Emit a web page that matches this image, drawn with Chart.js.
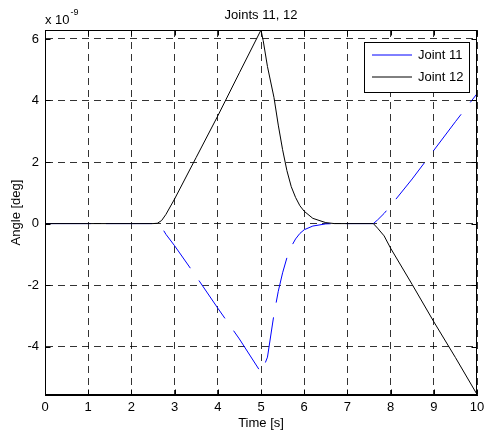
<!DOCTYPE html>
<html>
<head>
<meta charset="utf-8">
<title>Joints 11, 12</title>
<script src="https://cdn.jsdelivr.net/npm/chart.js@4.4.1/dist/chart.umd.min.js"></script>
<style>
    html, body { margin: 0; padding: 0; background: #fff; }
    #wrap { width: 484px; height: 434px; }
</style>
</head>
<body>
<div id="wrap"><canvas id="jointChart" width="484" height="434"></canvas></div>
<script>
// time samples [s]
const timeSec = [0, 2.5, 2.6, 2.7, 2.8, 3.0, 3.5, 4.0, 4.5, 5.0, 5.05, 5.15, 5.3, 5.4, 5.5, 5.6, 5.7, 5.8, 5.9, 6.0, 6.2, 6.5, 6.7, 7.5, 7.6, 7.7, 7.85, 8.0, 8.5, 9.0, 9.5, 10];
// joint angles, in units of 1e-9 deg
const joint11 = [0, 0, 0, -0.12, -0.35, -0.72, -1.72, -2.75, -3.75, -4.84, -4.7, -4.34, -2.95, -2.2, -1.6, -1.11, -0.75, -0.5, -0.32, -0.2, -0.08, -0.01, 0, 0, 0, 0.12, 0.33, 0.58, 1.45, 2.38, 3.31, 4.22];
const joint12 = [0, 0, 0.01, 0.1, 0.3, 0.8, 2.15, 3.5, 4.9, 6.29, 5.95, 5.1, 4.1, 3.2, 2.4, 1.72, 1.2, 0.85, 0.58, 0.4, 0.17, 0.03, 0, 0, 0, -0.15, -0.4, -0.8, -1.98, -3.19, -4.35, -5.55];
const seriesNames = ['Joint 11', 'Joint 12'];
const seriesColors = ['#0000ff', '#000000'];

const xTicks = [0, 1, 2, 3, 4, 5, 6, 7, 8, 9, 10];
const yTicks = [-4, -2, 0, 2, 4, 6];
const yMin = -5.57;
const yMax = 6.29;

document.addEventListener("DOMContentLoaded", () => {
    const ctx = document.getElementById('jointChart').getContext('2d');
    const font = "'Liberation Sans', Arial, sans-serif";

    function toPoints(values) {
        return timeSec.map((t, i) => ({ x: t, y: values[i] }));
    }

    // box, inward ticks on all four sides, exponent label and legend
    const axesFrame = {
        id: 'axesFrame',
        afterDatasetsDraw(chart) {
            const c = chart.ctx;
            const area = chart.chartArea;
            const xs = chart.scales.x;
            const ys = chart.scales.y;
            const tickLen = 5;
            const l = Math.round(area.left) + 0.5;
            const r = Math.round(area.right) - 0.5;
            const t = Math.round(area.top) + 0.5;
            const b = Math.round(area.bottom) - 0.5;

            c.save();
            c.setLineDash([]);
            c.strokeStyle = '#000';
            c.lineWidth = 1;
            c.strokeRect(l, t, r - l, b - t);

            c.beginPath();
            xTicks.forEach(v => {
                const px = Math.round(xs.getPixelForValue(v)) + 0.5;
                c.moveTo(px, b); c.lineTo(px, b - tickLen);
                c.moveTo(px, t); c.lineTo(px, t + tickLen);
            });
            yTicks.forEach(v => {
                const py = Math.round(ys.getPixelForValue(v)) + 0.5;
                c.moveTo(l, py); c.lineTo(l + tickLen, py);
                c.moveTo(r, py); c.lineTo(r - tickLen, py);
            });
            c.stroke();

            // exponent above the y axis
            c.fillStyle = '#000';
            c.textBaseline = 'alphabetic';
            c.textAlign = 'left';
            c.font = '13px ' + font;
            c.fillText('x 10', area.left, 24);
            const w = c.measureText('x 10').width;
            c.font = '9px ' + font;
            c.fillText('-9', area.left + w + 1, 15);

            // legend box in the upper right corner
            const boxL = 364.5, boxT = 42.5, boxW = 105, boxH = 50;
            c.fillStyle = '#fff';
            c.fillRect(boxL, boxT, boxW, boxH);
            c.strokeRect(boxL, boxT, boxW, boxH);
            c.font = '13px ' + font;
            c.textBaseline = 'middle';
            seriesNames.forEach((name, i) => {
                const y = 55 + i * 22;
                c.strokeStyle = seriesColors[i];
                c.beginPath();
                c.moveTo(372, y);
                c.lineTo(412, y);
                c.stroke();
                c.fillStyle = '#000';
                c.fillText(name, 418, y + 0.5);
            });
            c.restore();
        }
    };

    new Chart(ctx, {
        type: 'line',
        data: {
            datasets: [{
                label: seriesNames[0],
                data: toPoints(joint11),
                borderColor: seriesColors[0],
                borderWidth: 1,
                borderDash: [46, 15],
                pointRadius: 0,
                tension: 0,
                order: 2
            }, {
                label: seriesNames[1],
                data: toPoints(joint12),
                borderColor: seriesColors[1],
                borderWidth: 1,
                pointRadius: 0,
                tension: 0,
                order: 1
            }]
        },
        options: {
            responsive: false,
            animation: false,
            devicePixelRatio: 1,
            layout: { padding: 0 },
            plugins: {
                legend: { display: false },
                tooltip: { enabled: false },
                title: {
                    display: true,
                    text: 'Joints 11, 12',
                    fullSize: false,
                    color: '#000',
                    font: { family: font, size: 13, weight: 'normal' },
                    padding: { top: 8, bottom: 6.4 }
                }
            },
            scales: {
                x: {
                    type: 'linear',
                    min: 0,
                    max: 10,
                    afterBuildTicks: scale => { scale.ticks = xTicks.map(v => ({ value: v })); },
                    afterFit: scale => {
                        scale.height = 39;
                        scale.paddingRight = 7;
                    },
                    grid: { color: 'rgba(0,0,0,0.8)', drawTicks: false },
                    border: { display: true, color: '#000', dash: [7, 5] },
                    ticks: {
                        color: '#000',
                        padding: 5,
                        maxRotation: 0,
                        font: { family: font, size: 13 }
                    },
                    title: {
                        display: true,
                        text: 'Time [s]',
                        color: '#000',
                        font: { family: font, size: 13 },
                        padding: { top: 0, bottom: 3 }
                    }
                },
                y: {
                    type: 'linear',
                    min: yMin,
                    max: yMax,
                    afterBuildTicks: scale => { scale.ticks = yTicks.map(v => ({ value: v })); },
                    afterFit: scale => { scale.width = 45; },
                    grid: { color: 'rgba(0,0,0,0.8)', drawTicks: false },
                    border: { display: true, color: '#000', dash: [7, 5] },
                    ticks: {
                        color: '#000',
                        padding: 6,
                        font: { family: font, size: 13 },
                        callback: v => String(v)
                    },
                    title: {
                        display: true,
                        text: 'Angle [deg]',
                        color: '#000',
                        font: { family: font, size: 13 },
                        padding: { top: 9, bottom: 0 }
                    }
                }
            }
        },
        plugins: [axesFrame]
    });
});
</script>
</body>
</html>
